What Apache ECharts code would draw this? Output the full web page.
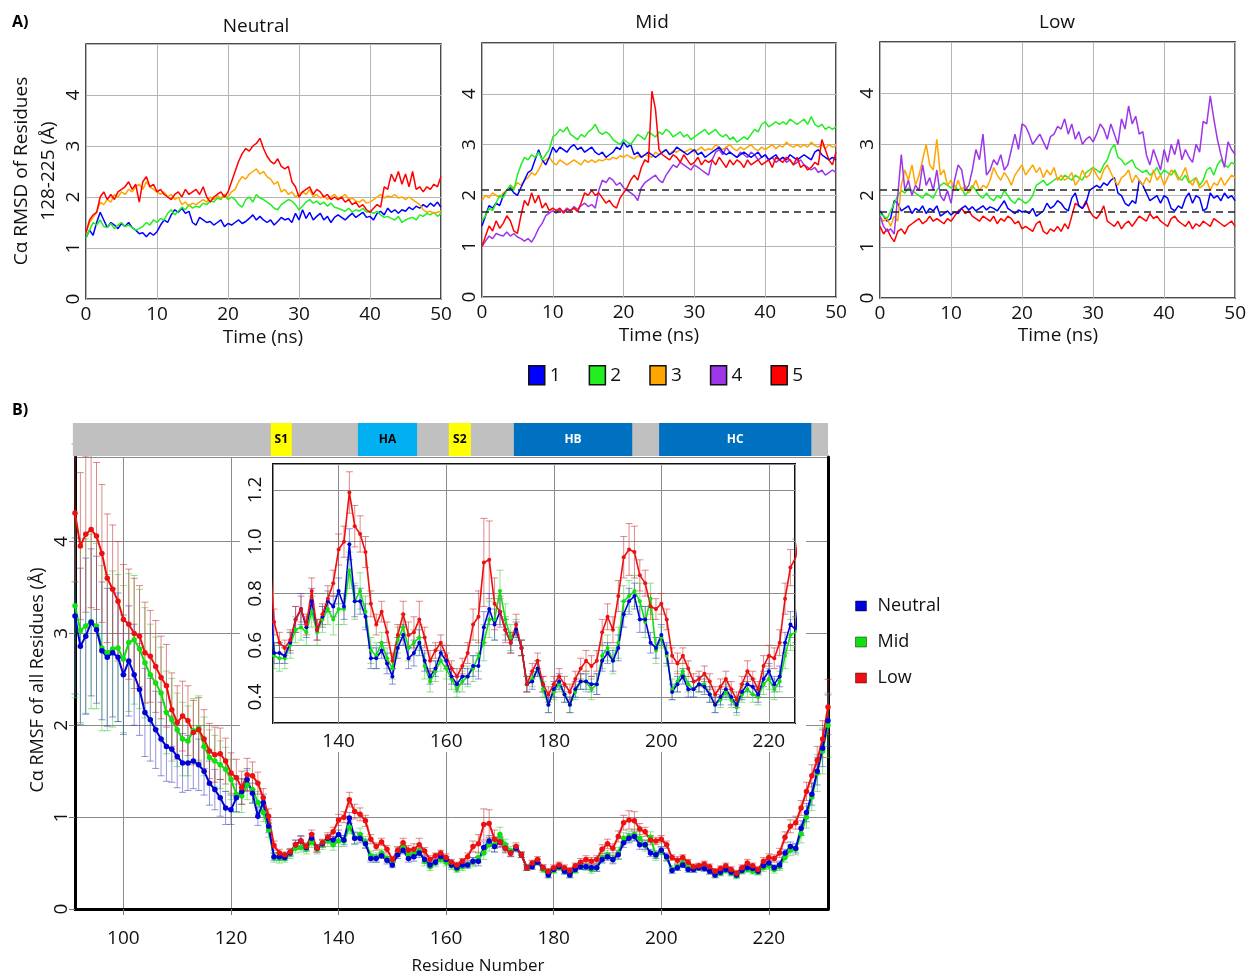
<!DOCTYPE html>
<html><head><meta charset="utf-8">
<script src="https://cdn.jsdelivr.net/npm/echarts@6/dist/echarts.min.js"></script>
<style>html,body{margin:0;padding:0;background:#fff}#c{width:1249px;height:978px}</style>
</head><body><div id="c"></div>
<script>
// ---------------- DATA ----------------
var timeStart = 0, timeStep = 0.5;   // ns, panel A samples
var runNames = ['1','2','3','4','5'];
// Panel A: Neutral
var neutral1 = [1.2,1.35,1.25,1.5,1.7,1.55,1.4,1.5,1.45,1.38,1.48, 1.42,1.5,1.4,1.35,1.28,1.3,1.22,1.3,1.25,1.32, 1.45,1.55,1.5,1.65,1.75,1.7,1.78,1.68,1.72,1.5, 1.45,1.6,1.55,1.5,1.52,1.45,1.5,1.55,1.42,1.48, 1.45,1.5,1.55,1.48,1.52,1.58,1.65,1.55,1.62,1.55, 1.5,1.55,1.45,1.52,1.6,1.55,1.58,1.5,1.68,1.55, 1.75,1.58,1.7,1.55,1.62,1.68,1.55,1.62,1.5,1.6, 1.65,1.6,1.55,1.62,1.68,1.6,1.65,1.7,1.6,1.62, 1.55,1.68,1.72,1.65,1.78,1.7,1.75,1.68,1.75,1.72, 1.8,1.75,1.82,1.78,1.85,1.8,1.88,1.82,1.9,1.8];
var neutral2 = [1.2,1.35,1.5,1.45,1.55,1.42,1.4,1.48,1.38,1.45,1.5, 1.42,1.45,1.4,1.35,1.38,1.42,1.5,1.45,1.55,1.5, 1.58,1.55,1.68,1.75,1.65,1.72,1.8,1.75,1.85,1.78, 1.82,1.8,1.88,1.85,1.92,1.9,1.98,1.95,2.05,1.95, 2.0,1.95,1.85,1.8,1.95,2.0,1.9,2.05,1.98,1.95, 1.9,1.85,1.78,1.75,1.85,1.9,1.95,1.92,1.85,1.75, 1.82,1.9,1.95,1.88,1.92,1.85,1.9,1.82,1.88,1.8, 1.78,1.75,1.72,1.78,1.7,1.75,1.72,1.78,1.7,1.72, 1.68,1.72,1.65,1.6,1.62,1.58,1.55,1.62,1.5,1.55, 1.58,1.6,1.55,1.65,1.62,1.68,1.65,1.7,1.62,1.68];
var neutral3 = [1.3,1.5,1.6,1.7,1.9,1.85,1.95,1.9,2.05,2.0,2.1, 2.05,2.15,2.1,2.2,2.25,2.15,2.3,2.2,2.15,2.1, 2.05,2.1,2.0,2.05,1.95,2.0,1.85,1.9,1.82,1.88, 1.85,1.9,1.95,1.9,2.0,1.95,2.02,1.98,2.05,2.0, 2.1,2.15,2.3,2.4,2.35,2.45,2.5,2.55,2.45,2.5, 2.4,2.35,2.25,2.3,2.1,2.15,2.05,2.1,2.0,2.05, 2.1,2.05,2.15,2.0,2.05,1.98,2.02,1.95,2.0,2.05, 1.98,2.0,2.05,1.95,1.98,1.92,1.9,1.95,1.88,1.9, 1.95,2.0,2.05,1.98,2.02,2.0,2.05,1.98,2.0,1.95, 2.0,1.95,1.9,1.85,1.75,1.7,1.72,1.68,1.7,1.72];
var neutral5 = [1.3,1.55,1.65,1.7,2.0,2.1,1.95,2.05,1.95,2.1,2.15, 2.2,2.3,2.15,2.25,1.9,2.3,2.4,2.2,2.25,2.1, 2.15,2.05,2.0,1.95,2.05,2.1,2.0,2.15,2.05,2.1, 2.15,2.05,2.2,2.0,1.9,2.0,2.05,2.1,2.0,2.1, 2.3,2.5,2.7,2.85,2.95,2.9,3.0,3.05,3.15,2.95, 2.8,2.7,2.65,2.75,2.6,2.55,2.6,2.3,2.2,2.0, 2.1,2.15,2.2,2.05,2.15,2.1,2.0,2.05,1.95,2.0, 1.95,2.0,1.9,1.95,1.85,1.9,1.8,1.85,1.75,1.7, 1.78,1.85,1.8,2.2,2.15,2.45,2.3,2.5,2.25,2.45, 2.2,2.5,2.15,2.2,2.1,2.2,2.15,2.25,2.2,2.4];
// Panel A: Mid
var mid1 = [1.4,1.6,1.8,1.75,1.85,1.8,2.0,2.1,2.15,2.05,2.0, 2.15,2.3,2.45,2.5,2.7,2.9,2.7,2.6,2.75,2.95, 2.85,2.95,2.9,2.85,2.95,3.0,2.9,2.95,2.85,2.9, 2.95,2.85,2.8,2.85,2.75,2.8,2.85,2.95,2.9,3.05, 2.95,3.0,2.8,2.85,2.75,2.8,2.85,2.8,2.75,2.8, 2.85,2.9,2.8,2.85,2.95,2.9,2.85,2.8,2.85,2.9, 2.8,2.85,2.75,2.8,2.85,2.9,2.95,2.85,2.8,2.85, 2.8,2.75,2.8,2.85,2.8,2.75,2.8,2.85,2.75,2.8, 2.7,2.75,2.8,2.7,2.75,2.7,2.8,2.75,2.7,2.75, 2.8,2.75,2.7,2.85,2.9,2.8,2.75,2.7,2.75,2.7];
var mid2 = [1.5,1.6,1.75,1.7,1.85,2.0,1.95,2.1,2.2,2.1,2.4, 2.6,2.75,2.7,2.8,2.75,2.85,2.7,2.8,2.9,3.15, 3.2,3.3,3.25,3.35,3.2,3.15,3.1,3.2,3.15,3.25, 3.3,3.4,3.25,3.2,3.25,3.2,3.1,3.05,3.0,3.1, 3.05,3.0,3.1,3.2,3.15,3.1,3.25,3.2,3.15,3.25, 3.2,3.3,3.25,3.15,3.2,3.25,3.15,3.2,3.1,3.15, 3.2,3.25,3.3,3.2,3.25,3.3,3.2,3.15,3.2,3.1, 3.15,3.05,3.1,3.15,3.1,3.2,3.3,3.25,3.4,3.45, 3.35,3.4,3.45,3.4,3.45,3.4,3.5,3.45,3.4,3.45, 3.5,3.4,3.55,3.4,3.35,3.4,3.3,3.35,3.3,3.35];
var mid3 = [1.9,2.0,1.95,2.05,2.0,1.95,2.05,2.1,2.2,2.15,2.25, 2.2,2.3,2.35,2.45,2.4,2.5,2.65,2.7,2.75,2.65, 2.6,2.7,2.65,2.6,2.65,2.7,2.65,2.6,2.7,2.65, 2.7,2.65,2.7,2.68,2.72,2.7,2.75,2.72,2.78,2.75, 2.8,2.75,2.72,2.78,2.75,2.8,2.78,2.75,2.85,2.8, 2.85,2.9,2.82,2.88,2.85,2.9,2.85,2.88,2.92,2.85, 2.9,2.95,2.88,2.92,2.9,3.0,2.95,2.9,2.95,3.0, 2.92,2.88,2.95,2.9,2.95,3.0,2.92,2.88,2.95,2.9, 2.95,3.0,2.92,2.98,2.95,3.05,2.98,2.95,3.0,2.95, 3.0,2.95,3.05,2.98,2.95,3.0,2.92,3.0,2.95,2.98];
var mid4 = [1.0,1.1,1.2,1.15,1.25,1.22,1.2,1.28,1.2,1.25,1.18, 1.15,1.1,1.15,1.08,1.2,1.35,1.45,1.6,1.65,1.7, 1.65,1.72,1.68,1.75,1.7,1.78,1.72,1.8,1.85,1.78, 1.82,1.75,2.1,2.3,2.25,2.35,2.3,2.2,2.25,2.15, 2.1,2.05,2.0,1.9,2.15,2.25,2.3,2.35,2.4,2.3, 2.25,2.4,2.5,2.6,2.55,2.65,2.6,2.55,2.5,2.6, 2.55,2.5,2.45,2.4,2.7,2.85,2.9,2.8,2.95,2.85, 2.8,2.75,2.85,2.8,2.75,2.85,2.8,2.7,2.75,2.8, 2.7,2.75,2.65,2.7,2.75,2.65,2.7,2.6,2.65,2.7, 2.6,2.55,2.5,2.55,2.45,2.5,2.4,2.45,2.5,2.45];
var mid5 = [1.0,1.2,1.4,1.3,1.5,1.35,1.45,1.6,1.5,1.3,1.25, 1.6,1.9,1.8,2.05,1.85,2.0,1.75,1.85,1.7,1.75, 1.7,1.75,1.65,1.72,1.7,1.75,1.68,1.85,2.05,2.0, 2.1,2.0,2.05,1.95,1.85,1.9,1.8,1.75,1.95,2.05, 2.15,2.3,2.4,2.3,2.55,2.7,2.65,4.05,3.7,2.9, 2.8,2.75,2.7,2.8,2.75,2.65,2.8,2.7,2.6,2.65, 2.75,2.6,2.7,2.65,2.7,2.6,2.75,2.65,2.55,2.7, 2.6,2.7,2.65,2.55,2.7,2.6,2.65,2.7,2.6,2.65, 2.7,2.55,2.75,2.7,2.65,2.75,2.7,2.6,2.75,2.55, 2.6,2.5,2.55,2.65,2.6,3.1,2.9,2.7,2.6,2.85];
// Panel A: Low
var low1 = [1.7,1.6,1.5,1.55,1.9,1.85,1.7,1.75,1.8,1.65,1.75, 1.7,1.8,1.65,1.75,1.7,1.8,1.6,1.65,1.7,1.62, 1.68,1.65,1.75,1.8,1.72,1.78,1.7,1.75,1.8,1.72, 1.78,1.75,1.7,1.8,1.9,1.75,1.7,1.65,1.72,1.68, 1.7,1.65,1.75,1.6,1.65,1.7,1.85,1.75,1.8,1.9, 1.85,1.75,1.7,1.95,2.05,1.8,1.75,1.85,2.1,2.15, 2.2,2.15,2.25,2.2,2.3,2.35,2.05,2.0,1.85,1.8, 1.9,1.85,2.3,2.2,2.05,1.9,1.95,2.0,1.85,2.0, 1.95,1.75,1.7,1.8,1.75,1.95,2.05,1.85,2.0,1.95, 1.7,1.75,2.05,1.95,2.0,1.9,2.05,1.95,2.0,1.9];
var low2 = [1.65,1.6,1.55,1.7,1.85,2.0,2.1,2.05,2.15,2.1,2.05, 2.0,1.95,2.05,2.0,1.95,2.1,2.2,2.25,2.2,2.15, 2.2,2.1,2.15,2.0,2.1,2.2,2.1,2.0,1.95,2.05, 1.95,1.9,2.0,1.95,2.1,2.0,1.9,1.85,1.95,1.9, 1.85,1.9,2.0,2.2,2.25,2.3,2.2,2.25,2.3,2.35, 2.3,2.4,2.35,2.3,2.4,2.35,2.3,2.45,2.5,2.55, 2.5,2.45,2.6,2.7,2.9,3.0,2.75,2.7,2.6,2.65, 2.7,2.55,2.5,2.45,2.5,2.4,2.45,2.55,2.4,2.5, 2.45,2.4,2.5,2.35,2.3,2.4,2.25,2.3,2.35,2.2, 2.3,2.5,2.55,2.4,2.6,2.7,2.6,2.55,2.65,2.6];
var low3 = [1.6,1.5,1.55,1.4,1.6,1.5,2.2,2.5,2.3,2.6,2.2, 2.4,2.7,3.0,2.6,2.5,3.1,2.4,2.5,2.2,2.3, 2.1,2.3,2.1,2.2,2.05,2.15,2.3,2.1,2.2,2.15, 2.3,2.55,2.4,2.3,2.45,2.35,2.2,2.4,2.5,2.6, 2.4,2.5,2.6,2.45,2.55,2.35,2.5,2.4,2.55,2.3, 2.4,2.3,2.35,2.45,2.2,2.3,2.5,2.35,2.4,2.55, 2.4,2.3,2.5,2.6,2.45,2.3,2.2,2.35,2.4,2.5, 2.25,2.4,2.3,2.2,2.35,2.25,2.5,2.3,2.4,2.2, 2.35,2.5,2.45,2.3,2.4,2.55,2.3,2.2,2.35,2.15, 2.2,2.3,2.1,2.25,2.2,2.35,2.2,2.3,2.4,2.35];
var low4 = [1.6,1.4,1.3,1.35,1.25,2.0,2.8,2.1,2.3,2.0,2.2, 2.1,2.6,2.2,2.35,2.1,2.5,2.0,1.9,2.1,1.85, 2.3,2.6,2.5,2.1,2.2,2.5,2.9,2.7,3.2,2.4, 2.5,2.7,2.6,2.8,2.5,2.6,2.9,3.2,2.9,3.4, 3.35,3.2,3.0,3.1,3.2,3.05,2.9,3.15,3.2,3.35, 3.3,3.5,3.2,3.4,3.1,3.25,3.0,3.1,3.15,3.05, 3.2,3.4,3.3,3.1,3.4,3.2,3.0,3.5,3.3,3.75, 3.4,3.55,3.2,3.25,2.8,2.6,2.9,2.7,2.5,2.9, 2.65,3.0,2.8,3.1,2.7,2.9,2.75,2.65,3.0,2.85, 3.45,3.4,3.95,3.5,3.1,2.8,2.55,3.05,2.9,2.8];
var low5 = [1.4,1.25,1.35,1.2,1.1,1.3,1.35,1.25,1.4,1.45,1.5, 1.55,1.45,1.5,1.6,1.5,1.55,1.5,1.45,1.55,1.5, 1.6,1.7,1.75,1.65,1.7,1.6,1.55,1.5,1.6,1.55, 1.5,1.6,1.45,1.55,1.5,1.6,1.55,1.45,1.5,1.35, 1.4,1.35,1.3,1.45,1.5,1.3,1.25,1.35,1.3,1.4, 1.3,1.45,1.35,1.6,1.85,1.8,1.75,1.9,1.7,1.6, 1.55,1.65,1.8,1.5,1.45,1.4,1.5,1.35,1.45,1.5, 1.4,1.5,1.6,1.55,1.5,1.65,1.55,1.6,1.5,1.45, 1.4,1.55,1.6,1.5,1.45,1.4,1.5,1.35,1.45,1.4, 1.5,1.45,1.4,1.55,1.5,1.45,1.4,1.45,1.5,1.4];
var refLines = [1.68, 2.12];  // dashed reference levels (Mid, Low)

// Panel B: RMSF per residue, residues 91..231
var residueStart = 91;
var rmsfNeutral = [3.19,2.86,2.97,3.12,3.04,2.81,2.74,2.79,2.74,2.55,2.70,2.55,2.39,2.14,2.06,1.95,1.85,1.77,1.74,1.66,1.59,1.59,1.61,1.57,1.50,1.37,1.30,1.21,1.10,1.08,1.21,1.28,1.41,1.26,1.01,1.16,0.90,
 0.57,0.57,0.56,0.61,0.70,0.74,0.67,0.77,0.66,0.71,0.77,0.75,
 0.81,0.75,0.99,0.77,0.77,0.71,0.55,0.55,0.58,0.53,0.48,0.59,
 0.64,0.55,0.57,0.61,0.54,0.48,0.51,0.57,0.54,0.48,0.45,0.48,
 0.48,0.52,0.52,0.67,0.74,0.68,0.73,0.66,0.61,0.66,0.59,0.45,
 0.46,0.51,0.45,0.37,0.43,0.46,0.41,0.37,0.43,0.46,0.46,0.45,
 0.45,0.54,0.57,0.54,0.59,0.72,0.77,0.79,0.70,0.70,0.61,0.59,
 0.64,0.57,0.42,0.45,0.48,0.43,0.43,0.45,0.44,0.41,0.37,0.40,
 0.43,0.40,0.37,0.42,0.45,0.44,0.41,0.47,0.50,0.45,0.48,0.61,0.68,0.66,
 0.88,1.05,1.25,1.50,1.75,2.05];
var rmsfMid = [3.30,3.03,3.08,3.13,3.08,2.84,2.79,2.83,2.84,2.72,2.90,2.93,2.83,2.68,2.55,2.46,2.35,2.14,2.06,1.95,1.85,1.83,1.94,1.97,1.77,1.65,1.61,1.57,1.52,1.41,1.25,1.23,1.35,1.30,1.16,1.05,0.86,
 0.56,0.55,0.55,0.60,0.66,0.67,0.65,0.73,0.65,0.70,0.74,0.70,
 0.74,0.74,0.89,0.77,0.81,0.73,0.58,0.56,0.61,0.55,0.51,0.62,
 0.67,0.59,0.61,0.63,0.52,0.46,0.50,0.54,0.51,0.47,0.43,0.46,
 0.48,0.51,0.56,0.61,0.70,0.70,0.81,0.70,0.63,0.66,0.59,0.45,
 0.47,0.51,0.43,0.37,0.42,0.45,0.41,0.37,0.42,0.46,0.46,0.43,
 0.45,0.56,0.59,0.54,0.61,0.77,0.79,0.81,0.77,0.69,0.78,0.58,
 0.63,0.56,0.43,0.46,0.50,0.45,0.43,0.45,0.45,0.41,0.37,0.39,
 0.42,0.39,0.36,0.41,0.43,0.41,0.40,0.45,0.47,0.43,0.46,0.56,0.64,0.65,
 0.82,1.00,1.22,1.48,1.72,2.00];
var rmsfLow = [4.31,3.95,4.08,4.13,4.06,3.87,3.60,3.48,3.35,3.15,3.10,3.00,2.97,2.79,2.75,2.64,2.52,2.43,2.17,2.03,2.10,2.05,1.92,1.95,1.85,1.72,1.68,1.69,1.61,1.48,1.43,1.32,1.46,1.45,1.37,1.21,1.01,
 0.69,0.61,0.59,0.62,0.70,0.74,0.68,0.81,0.66,0.72,0.78,0.84,
 0.97,1.00,1.19,1.06,1.03,0.96,0.76,0.68,0.73,0.65,0.54,0.64,
 0.72,0.64,0.65,0.70,0.63,0.54,0.58,0.61,0.56,0.51,0.48,0.52,
 0.57,0.68,0.71,0.92,0.93,0.76,0.73,0.66,0.61,0.68,0.59,0.45,
 0.50,0.54,0.45,0.41,0.45,0.48,0.45,0.42,0.47,0.51,0.54,0.52,
 0.54,0.65,0.71,0.66,0.79,0.94,0.97,0.96,0.87,0.84,0.75,0.74,
 0.76,0.70,0.56,0.53,0.56,0.51,0.46,0.47,0.49,0.46,0.41,0.44,
 0.47,0.43,0.39,0.45,0.50,0.47,0.43,0.52,0.56,0.55,0.61,0.78,0.90,0.94,
 1.10,1.28,1.45,1.62,1.85,2.20];
var errNeutral = [.85,.85,.85,.8,.8,.75,.75,.7,.7,.65,.6,.55,.5,.48,.45,.42,.4,.38,.36,.34,.32,.3,.3,.28,.26,.24,.22,.2,.18,.16,.15,.14,.12,.11,.1,.09,.07,
 .04,.04,.03,.04,.05,.06,.04,.05,.04,.04,.04,.04,
 .05,.05,.06,.06,.05,.05,.04,.04,.03,.04,.03,.04,
 .04,.04,.05,.05,.04,.03,.03,.03,.03,.03,.03,.03,
 .03,.04,.05,.06,.06,.06,.05,.04,.04,.03,.03,.03,
 .03,.03,.03,.03,.03,.03,.03,.03,.03,.03,.03,.03,
 .04,.04,.04,.04,.05,.05,.05,.05,.05,.05,.04,.04,
 .04,.04,.03,.03,.03,.03,.03,.03,.03,.03,.03,.03,
 .03,.03,.03,.03,.03,.03,.03,.03,.03,.03,.04,.04,.05,.05,
 .08,.1,.12,.15,.2,.28];
var errMid = [1.0,1.0,.95,.95,.9,.9,.85,.85,.8,.8,.75,.7,.65,.6,.55,.5,.5,.45,.45,.4,.4,.38,.35,.35,.32,.3,.28,.26,.24,.22,.2,.18,.16,.14,.12,.1,.08,
 .05,.05,.04,.05,.05,.05,.05,.06,.05,.05,.06,.06,
 .06,.06,.07,.07,.07,.06,.05,.05,.04,.04,.04,.05,
 .05,.05,.05,.05,.05,.04,.04,.04,.04,.04,.03,.04,
 .04,.05,.06,.07,.07,.08,.08,.06,.05,.04,.03,.03,
 .03,.03,.03,.03,.03,.03,.03,.03,.03,.03,.04,.04,
 .04,.05,.05,.05,.06,.06,.06,.06,.07,.06,.06,.05,
 .04,.04,.04,.04,.03,.03,.03,.03,.03,.03,.03,.03,
 .03,.03,.03,.03,.03,.03,.03,.04,.04,.04,.04,.05,.06,.06,
 .1,.12,.15,.2,.25,.35];
var errLow = [.75,.8,.85,.85,.8,.75,.7,.7,.65,.6,.6,.6,.55,.55,.5,.5,.45,.45,.4,.4,.38,.38,.35,.35,.32,.3,.3,.28,.25,.22,.2,.18,.18,.15,.12,.1,.08,
 .05,.04,.03,.04,.05,.05,.04,.05,.04,.04,.05,.05,
 .06,.06,.08,.08,.07,.06,.05,.04,.04,.04,.03,.04,
 .05,.05,.06,.07,.04,.04,.03,.03,.04,.03,.03,.03,
 .04,.06,.1,.17,.15,.1,.06,.05,.04,.04,.03,.03,
 .03,.03,.03,.03,.03,.03,.03,.03,.03,.04,.04,.04,
 .04,.05,.05,.05,.06,.08,.1,.1,.06,.05,.05,.04,
 .04,.04,.03,.04,.03,.03,.03,.03,.03,.03,.03,.03,
 .03,.03,.03,.03,.04,.03,.03,.04,.04,.04,.05,.06,.07,.07,
 .08,.1,.12,.15,.2,.3];
// secondary-structure domains (residue ranges)
var domainLabels = ['S1','HA','S2','HB','HC'];
var domainStart  = [127.4, 143.6, 160.5, 172.6, 199.6];
var domainEnd    = [131.3, 154.6, 164.6, 194.6, 227.9];
var insetRange = [127.8, 224.85];

// ---------------- STYLE ----------------
var FONT = "'Open Sans','Noto Sans',sans-serif";
var runColor = {'1':'#0000ff','2':'#22ee22','3':'#ffa500','4':'#9d36e8','5':'#ff0000'};
var phColor = {'Neutral':'#0000d8','Mid':'#10e010','Low':'#ee1010'};
var errColor = {'Neutral':'rgba(60,60,190,0.55)','Mid':'rgba(60,200,60,0.55)','Low':'rgba(200,60,60,0.6)'};
var domainFill = {'S1':'#ffff00','HA':'#00b0f0','S2':'#ffff00','HB':'#0070c0','HC':'#0070c0'};
var domainText = {'S1':'#000','HA':'#000','S2':'#000','HB':'#fff','HC':'#fff'};

function tsPairs(vals){ return vals.map(function(v,i){ return [timeStart + i*timeStep, v]; }); }
function resPairs(vals, lo, hi){
  var out=[]; vals.forEach(function(v,i){ var r=residueStart+i; if(lo===undefined || (r>=lo && r<=hi)) out.push([r,v]); }); return out;
}
function errTriples(vals, errs, lo, hi){
  var out=[]; vals.forEach(function(v,i){ var r=residueStart+i; if(lo===undefined || (r>=lo && r<=hi)) out.push([r,v,errs[i]]); }); return out;
}

var series = [];
function tsSeries(name, vals, g){
  return {type:'line', name:name, xAxisIndex:g, yAxisIndex:g, data:tsPairs(vals), symbol:'none', showSymbol:false,
    lineStyle:{width:1.5,color:runColor[name]}, itemStyle:{color:runColor[name]}, emphasis:{disabled:true}, silent:true};
}
series.push(tsSeries('1',neutral1,0), tsSeries('2',neutral2,0), tsSeries('3',neutral3,0), tsSeries('5',neutral5,0));
series.push(tsSeries('4',mid4,1), tsSeries('3',mid3,1), tsSeries('1',mid1,1), tsSeries('2',mid2,1), tsSeries('5',mid5,1));
series.push(tsSeries('5',low5,2), tsSeries('1',low1,2), tsSeries('2',low2,2), tsSeries('3',low3,2), tsSeries('4',low4,2));
// dashed reference lines
[1,2].forEach(function(g){
  series.push({type:'line', xAxisIndex:g, yAxisIndex:g, data:[], silent:true,
    markLine:{silent:true, symbol:'none', label:{show:false}, animation:false,
      lineStyle:{type:[7,5], color:'#222', width:1.6},
      data: refLines.map(function(v){ return {yAxis:v}; })}});
});

function errRender(color){
  return function(params, api){
    var x=api.value(0), y=api.value(1), e=api.value(2);
    var t=api.coord([x,y+e]), b=api.coord([x,y-e]), hw=3.5;
    var st={stroke:color, lineWidth:1};
    return {type:'group', children:[
      {type:'line', shape:{x1:t[0],y1:t[1],x2:b[0],y2:b[1]}, style:st},
      {type:'line', shape:{x1:t[0]-hw,y1:t[1],x2:t[0]+hw,y2:t[1]}, style:st},
      {type:'line', shape:{x1:b[0]-hw,y1:b[1],x2:b[0]+hw,y2:b[1]}, style:st}
    ]};
  };
}
var phData = {'Neutral':[rmsfNeutral,errNeutral],'Mid':[rmsfMid,errMid],'Low':[rmsfLow,errLow]};
var phOrder = ['Mid','Neutral','Low'];
// main panel B
phOrder.forEach(function(p){
  series.push({type:'custom', xAxisIndex:3, yAxisIndex:3, renderItem:errRender(errColor[p]), silent:true,
    encode:{x:0,y:1}, data:errTriples(phData[p][0], phData[p][1]), z:2});
});
phOrder.forEach(function(p){
  series.push({type:'line', name:p, xAxisIndex:3, yAxisIndex:3, data:resPairs(phData[p][0]), symbol:'circle', symbolSize:5.5,
    lineStyle:{width:2, color:phColor[p]}, itemStyle:{color:phColor[p]}, silent:true, z:3});
});
// inset
phOrder.forEach(function(p){
  series.push({type:'custom', xAxisIndex:4, yAxisIndex:4, renderItem:errRender(errColor[p]), silent:true, clip:true,
    encode:{x:0,y:1}, data:errTriples(phData[p][0], phData[p][1], 127, 226), z:11});
});
phOrder.forEach(function(p){
  series.push({type:'line', name:p, xAxisIndex:4, yAxisIndex:4, data:resPairs(phData[p][0],127,226), symbol:'circle', symbolSize:4,
    lineStyle:{width:1.6, color:phColor[p]}, itemStyle:{color:phColor[p]}, silent:true, clip:true, z:12});
});
// domain bar
series.push({type:'custom', xAxisIndex:3, yAxisIndex:3, silent:true, clip:false, z:6,
  data:[[residueStart-0.4, 231]],
  renderItem:function(params, api){
    var cs=params.coordSys; var s=api.coord([api.value(0),0])[0], e=api.coord([api.value(1),0])[0];
    return {type:'rect', shape:{x:s, y:cs.y-34, width:e-s, height:33}, style:{fill:'#c0c0c0'}};
  }});
series.push({type:'custom', xAxisIndex:3, yAxisIndex:3, silent:true, clip:false, z:7,
  data:domainLabels.map(function(l,i){ return [domainStart[i], domainEnd[i]]; }),
  renderItem:function(params, api){
    var cs=params.coordSys; var s=api.coord([api.value(0),0])[0], e=api.coord([api.value(1),0])[0];
    var lab=domainLabels[params.dataIndex];
    return {type:'group', children:[
      {type:'rect', shape:{x:s, y:cs.y-34, width:e-s, height:33}, style:{fill:domainFill[lab]}},
      {type:'text', x:(s+e)/2, y:cs.y-17.5, style:{text:lab, fill:domainText[lab], font:'bold 12px '+FONT, align:'center', verticalAlign:'middle'}}
    ]};
  }});

var gridLine = {show:true, lineStyle:{color:'#b4b4b4', width:1}};
function aX(g){ return {type:'value', gridIndex:g, min:0, max:50, interval:10, axisLine:{show:false}, axisTick:{show:false}, splitLine:gridLine,
  axisLabel:{fontSize:19, color:'#111', fontFamily:FONT, margin:6}}; }
function aY(g){ return {type:'value', gridIndex:g, min:0, max:5, interval:1, axisLine:{show:false}, axisTick:{show:false}, splitLine:gridLine,
  axisLabel:{fontSize:19, color:'#111', fontFamily:FONT, rotate:90, margin:3, showMaxLabel:false}}; }

var option = {
  animation:false, backgroundColor:'#fff',
  grid:[
    {left:86, top:44, width:355, height:255, show:true, borderColor:'#111', borderWidth:1.5, backgroundColor:'transparent'},
    {left:482, top:43, width:354, height:254, show:true, borderColor:'#111', borderWidth:1.5, backgroundColor:'transparent'},
    {left:880, top:42, width:356, height:256, show:true, borderColor:'#111', borderWidth:1.5, backgroundColor:'transparent'},
    {left:75, top:457, width:753, height:452},
    {left:273, top:464, width:522, height:259, show:true, borderColor:'#111', borderWidth:2, backgroundColor:'transparent', z:9}
  ],
  xAxis:[aX(0), aX(1), aX(2),
    {type:'value', gridIndex:3, min:residueStart, max:231, splitNumber:7,
      axisLine:{show:true, lineStyle:{color:'#000', width:3}}, axisTick:{show:true, length:6, lineStyle:{color:'#777'}},
      splitLine:{show:true, lineStyle:{color:'#8a8a8a'}},
      axisLabel:{fontSize:19, color:'#111', fontFamily:FONT, margin:20, showMinLabel:false, showMaxLabel:false}},
    {type:'value', gridIndex:4, min:insetRange[0], max:insetRange[1], splitNumber:5, z:9,
      axisLine:{show:false}, axisTick:{show:false}, splitLine:{show:true, lineStyle:{color:'#8a8a8a'}},
      axisLabel:{fontSize:19, color:'#111', fontFamily:FONT, margin:9, showMinLabel:false, showMaxLabel:false}}
  ],
  yAxis:[aY(0), aY(1), aY(2),
    {type:'value', gridIndex:3, min:0, max:4.92, interval:1,
      axisLine:{show:true, lineStyle:{color:'#000', width:3}}, axisTick:{show:true, length:6, lineStyle:{color:'#777'}},
      splitLine:{show:true, lineStyle:{color:'#8a8a8a'}},
      axisLabel:{fontSize:19, color:'#111', fontFamily:FONT, rotate:90, margin:4, showMaxLabel:false}},
    {type:'value', gridIndex:4, min:0.3, max:1.3, splitNumber:5, z:9,
      axisLine:{show:false}, axisTick:{show:false}, splitLine:{show:true, lineStyle:{color:'#8a8a8a'}},
      axisLabel:{fontSize:19, color:'#111', fontFamily:FONT, rotate:90, margin:8, showMinLabel:false, showMaxLabel:false,
        formatter:function(v){ return v.toFixed(1); }}},
    {type:'value', gridIndex:3, position:'right', min:0, max:4.92, interval:1,
      axisLine:{show:true, lineStyle:{color:'#000', width:3}}, axisTick:{show:false}, axisLabel:{show:false}, splitLine:{show:false}}
  ],
  legend:[
    {data:runNames, left:523, top:360, orient:'horizontal', icon:'rect', itemWidth:16, itemHeight:19, itemGap:28,
      itemStyle:{borderColor:'#111', borderWidth:1.5}, textStyle:{fontSize:19, color:'#111', fontFamily:FONT}, selectedMode:false},
    {data:['Neutral','Mid','Low'], left:850, top:592, orient:'vertical', icon:'rect', itemWidth:11, itemHeight:10, itemGap:18,
      itemStyle:{borderColor:'rgba(0,0,0,0.45)', borderWidth:1}, textStyle:{fontSize:18, color:'#111', fontFamily:FONT, padding:[0,0,0,6]}, selectedMode:false}
  ],
  graphic:[
    {type:'rect', shape:{x:240, y:458, width:566, height:294}, style:{fill:'#fff'}, z:5, silent:true},
    {type:'text', x:12, y:22, style:{text:'A)', font:'bold 16px '+FONT, fill:'#000', verticalAlign:'middle'}},
    {type:'text', x:12, y:410, style:{text:'B)', font:'bold 16px '+FONT, fill:'#000', verticalAlign:'middle'}},
    {type:'text', x:256, y:27, style:{text:'Neutral', font:'19px '+FONT, fill:'#111', align:'center', verticalAlign:'middle'}},
    {type:'text', x:652, y:23, style:{text:'Mid', font:'19px '+FONT, fill:'#111', align:'center', verticalAlign:'middle'}},
    {type:'text', x:1057, y:23, style:{text:'Low', font:'19px '+FONT, fill:'#111', align:'center', verticalAlign:'middle'}},
    {type:'text', x:263, y:338, style:{text:'Time (ns)', font:'19px '+FONT, fill:'#111', align:'center', verticalAlign:'middle'}},
    {type:'text', x:659, y:336, style:{text:'Time (ns)', font:'19px '+FONT, fill:'#111', align:'center', verticalAlign:'middle'}},
    {type:'text', x:1058, y:336, style:{text:'Time (ns)', font:'19px '+FONT, fill:'#111', align:'center', verticalAlign:'middle'}},
    {type:'text', x:35, y:171, rotation:Math.PI/2, style:{text:'Cα RMSD of Residues\n128-225 (Å)', font:'19px '+FONT, lineHeight:27, fill:'#111', align:'center', verticalAlign:'middle'}},
    {type:'text', x:38, y:680, rotation:Math.PI/2, style:{text:'Cα RMSF of all Residues (Å)', font:'18px '+FONT, fill:'#111', align:'center', verticalAlign:'middle'}},
    {type:'text', x:478, y:966, style:{text:'Residue Number', font:'17px '+FONT, fill:'#111', align:'center', verticalAlign:'middle'}}
  ],
  series:series
};
var chart = echarts.init(document.getElementById('c'), null, {width:1249, height:978});
chart.setOption(option);
</script></body></html>
